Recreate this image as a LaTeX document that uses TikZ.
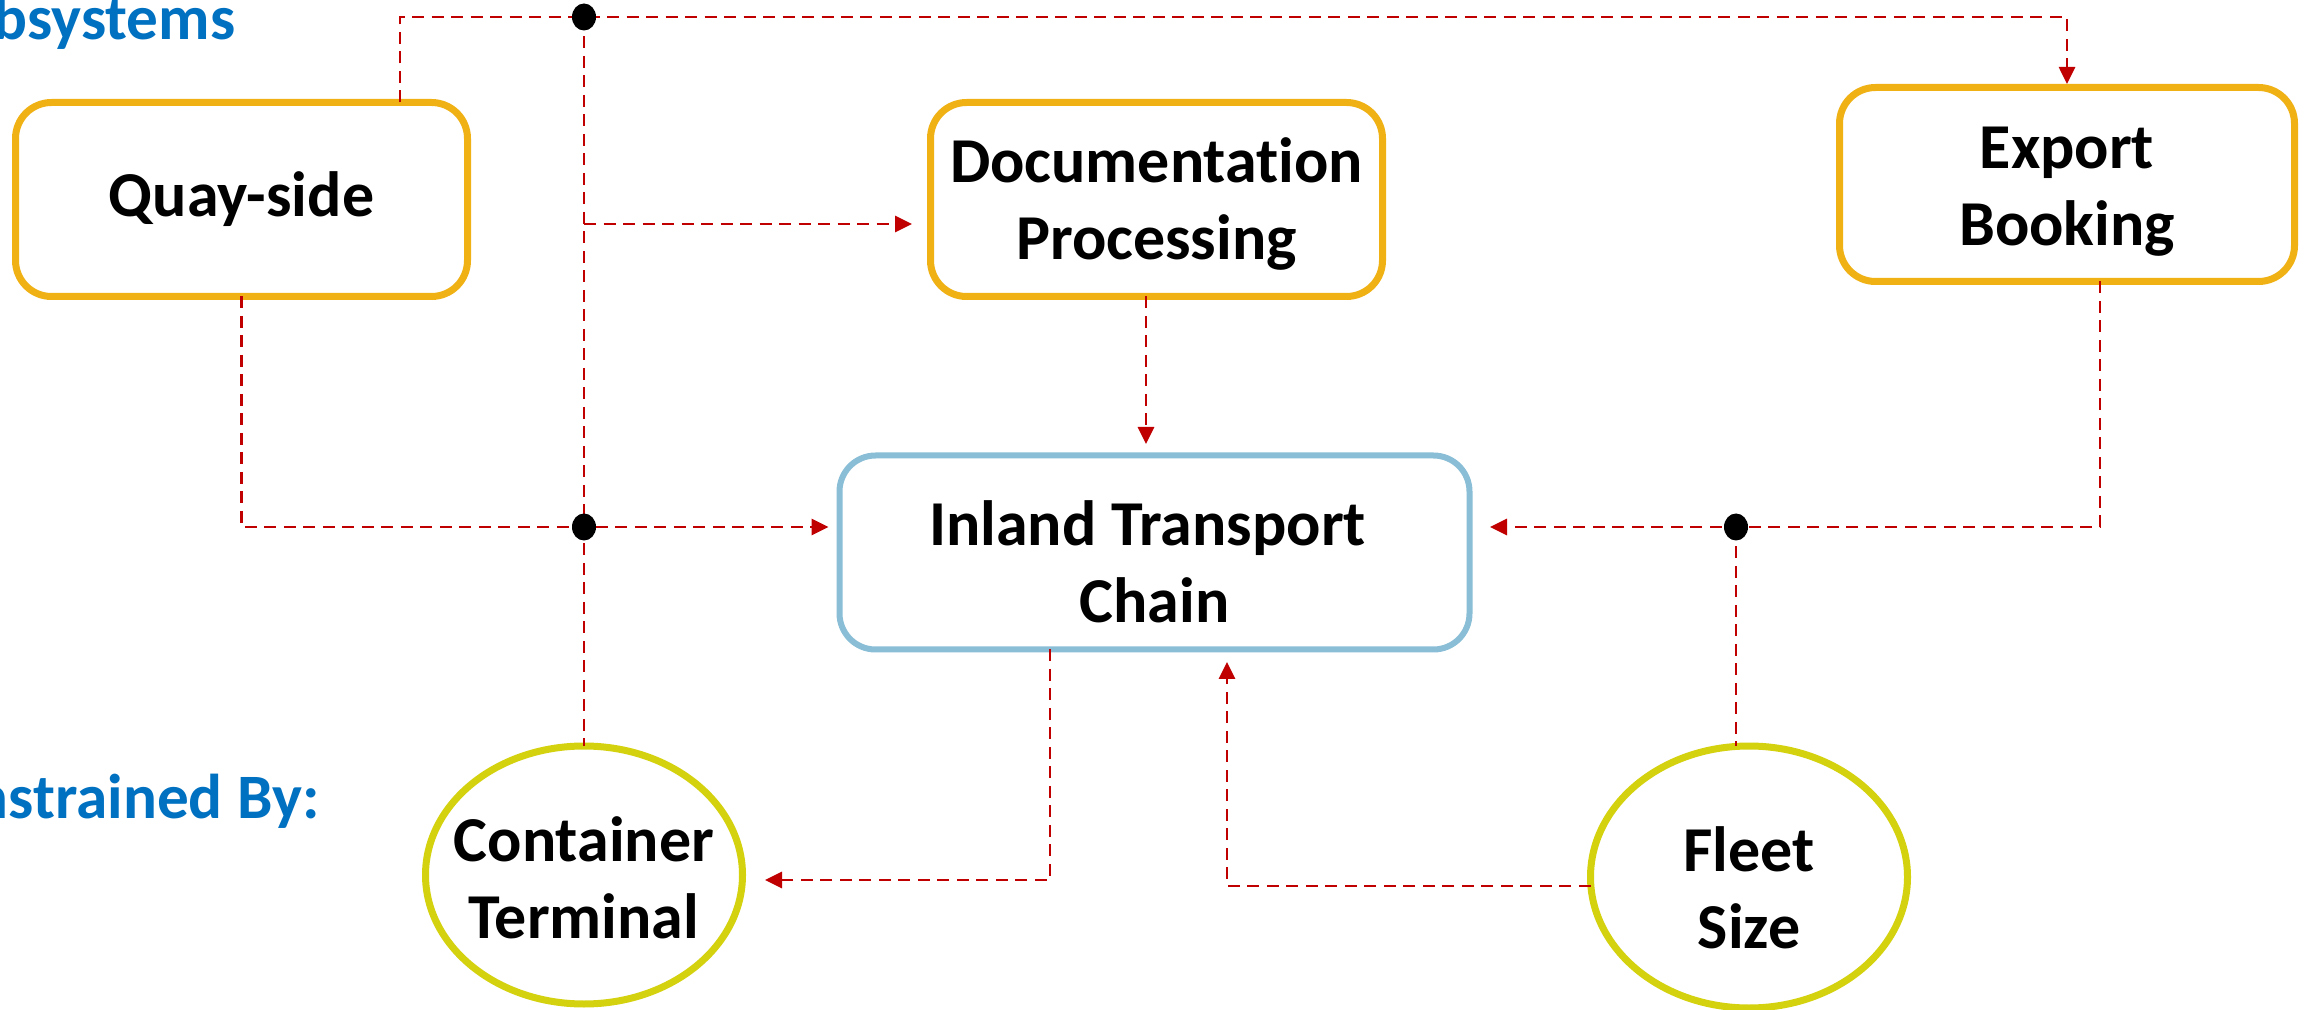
\documentclass[tikz,border=0pt]{standalone}
\usepackage{fontspec}
\setmainfont{Carlito}[Ligatures={NoCommon}]
\usetikzlibrary{shapes.geometric,arrows.meta}
\definecolor{subOrange}{HTML}{EFB114}
\definecolor{chainBlue}{HTML}{89BED6}
\definecolor{limitYellow}{HTML}{D4D10F}
\definecolor{linkRed}{HTML}{C00000}
\definecolor{headBlue}{HTML}{0070C0}
\tikzset{
  labeltext/.style={font=\bfseries\fontsize{18.2}{21.8}\selectfont, align=center, inner sep=0, outer sep=0},
  subbox/.style={draw=subOrange, line width=0.7mm, rounded corners=3.6mm, fill=white,
                 minimum width=45.2mm, minimum height=19.4mm, inner sep=0, outer sep=0},
  chainbox/.style={subbox, draw=chainBlue, line width=0.6mm, minimum width=63mm},
  limitnode/.style={ellipse, draw=limitYellow, line width=0.7mm, fill=white,
                    minimum width=31.7mm, minimum height=25.8mm, inner sep=0, outer sep=0},
  link/.style={draw=linkRed, line width=0.28mm, dash pattern=on 1.2mm off 0.75mm},
  linkarrow/.style={link, -{Triangle[length=1.7mm,width=1.6mm]}},
  junction/.style={fill=black, ellipse, minimum width=2.4mm, minimum height=2.7mm, inner sep=0},
  heading/.style={font=\bfseries\fontsize{18}{21.8}\selectfont, text=headBlue, inner sep=0}
}
\begin{document}
\begin{tikzpicture}[x=0.1mm, y=-0.1mm]
\clip (0,0) rectangle (2307,1010);

% section headings (run off the left edge)
\node[heading, anchor=base east] (hSub) at (236,40) {Subsystems};
\node[heading, anchor=base east] (hCon) at (320,818) {Constrained By:};

% subsystem boxes
\node[subbox] (quay) at (241.5,199.5) {};
\node[labeltext] (quayText) at (quay) {Quay-side};
\node[subbox] (doc) at (1156.5,199.5) {};
\node[labeltext] (docText) at ([yshift=-0.45mm]doc.center) {Documentation\\Processing};
\node[subbox, minimum width=45.5mm] (export) at (2067,184.5) {};
\node[labeltext] (exportText) at ([yshift=-0.7mm]export.center) {Export\\Booking};
\node[chainbox] (inland) at (1154.5,552.5) {};
\node[labeltext] (inlandText) at ([yshift=-0.9mm]inland.center) {Inland Transport\hspace*{0.22em}\\Chain};

% constraints
\node[limitnode] (cont) at (584,875) {};
\node[labeltext] (contText) at ([yshift=-0.3mm]cont.center) {Container\\Terminal};
\node[limitnode, minimum height=26.2mm] (fleet) at (1749,877) {};
\node[labeltext] (fleetText) at ([yshift=-1.1mm]fleet.center) {Fleet\\Size};

% junction points
\coordinate (jtop) at (584,17);
\coordinate (jmid) at (584,527);
\coordinate (jright) at (1736,527);
\coordinate (qturn) at (400,17);
\coordinate (jdoc) at (584,224);
\coordinate (edrop) at (2100,527);
\coordinate (cturn) at (1050,880);
\coordinate (fturn) at (1227,886);

% connectors
\draw[linkarrow, shorten >=0.35mm] (quay.north -| qturn) -- (qturn) -- (jtop)
      -- (jtop -| export.north) -- (export.north);
\draw[link] (jtop) -- (jmid) -- (cont.north);
\draw[linkarrow, shorten >=1.85mm] (jdoc) -- (jdoc -| doc.west);
\draw[linkarrow, shorten >=1.1mm] (quay.south) -- (quay.south |- jmid) -- (jmid -| inland.west);
\draw[linkarrow, shorten >=1.15mm] ([xshift=-1.05mm]doc.south) -- ([xshift=-1.05mm]doc.south |- inland.north);
\draw[linkarrow, shorten >=2.05mm] (export.south -| edrop) -- (edrop) -- (jright) -- (jright -| inland.east);
\draw[link] (jright) -- (jright |- fleet.north);
\draw[linkarrow, shorten >=2.25mm] (inland.south -| cturn) -- (cturn) -- (cturn -| cont.east);
\draw[linkarrow, shorten >=1.25mm] (fturn -| fleet.west) -- (fturn) -- (fturn |- inland.south);

% junction dots
\node[junction] (dTop) at (jtop) {};
\node[junction] (dMid) at (jmid) {};
\node[junction] (dRight) at (jright) {};
\end{tikzpicture}
\end{document}
